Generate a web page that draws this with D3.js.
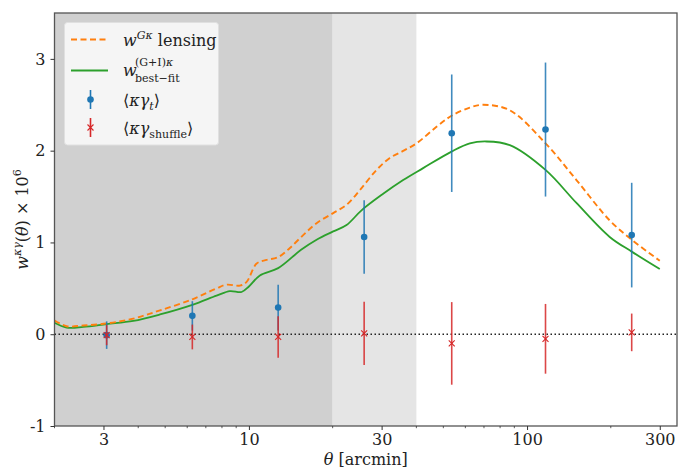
<!DOCTYPE html>
<html><head><meta charset="utf-8">
<script src="https://cdn.jsdelivr.net/npm/d3@7"></script>
<style>
html,body{margin:0;padding:0;background:#fff;}
svg text{font-family:"DejaVu Serif",serif;fill:#222;}
</style></head>
<body><svg id="c" width="678" height="468"></svg>
<script>
// ---- data ----
const lensTheta = [2.0, 2.21, 2.54, 3.08, 3.84, 4.79, 6.26, 7.65, 8.32, 9.28, 9.81, 10.66, 11.58, 12.74, 14.04, 15.67, 17.51, 20.09, 22.44, 25.06, 28.76, 32.11, 36.0, 40.06, 47.27, 53.51, 62.25, 69.5, 86.7, 116.5, 150.5, 198.2, 237.8, 300];
const lensValues = [0.15, 0.087, 0.095, 0.117, 0.17, 0.26, 0.38, 0.50, 0.54, 0.53, 0.57, 0.77, 0.81, 0.84, 0.94, 1.08, 1.21, 1.32, 1.41, 1.57, 1.79, 1.92, 2.00, 2.08, 2.26, 2.38, 2.47, 2.50, 2.44, 2.08, 1.68, 1.24, 1.03, 0.80];
const fitTheta = [2.0, 2.21, 2.54, 3.08, 3.84, 4.79, 6.26, 7.65, 8.54, 9.41, 10.0, 10.95, 12.74, 15.4, 17.51, 20.09, 22.44, 25.4, 30.38, 35.85, 42.3, 53.51, 62.25, 71.5, 86.7, 116.5, 150.5, 198.2, 237.8, 300];
const fitValues = [0.125, 0.073, 0.08, 0.11, 0.145, 0.215, 0.32, 0.42, 0.47, 0.46, 0.52, 0.64, 0.72, 0.92, 1.03, 1.12, 1.19, 1.35, 1.53, 1.68, 1.81, 1.99, 2.08, 2.10, 2.06, 1.79, 1.43, 1.06, 0.90, 0.71];
const binTheta = [3.08, 6.26, 12.74, 25.96, 53.6, 116.5, 237.8];
const kgValues = [-0.01, 0.20, 0.29, 1.06, 2.19, 2.23, 1.08];
const kgErrors = [0.15, 0.16, 0.25, 0.40, 0.64, 0.73, 0.57];
const shufValues = [-0.01, -0.03, -0.03, 0.01, -0.10, -0.05, 0.02];
const shufErrors = [0.11, 0.135, 0.225, 0.345, 0.45, 0.38, 0.205];
const xTicks = [3, 10, 30, 100, 300];
const yTicks = [-1, 0, 1, 2, 3];
const regions = [[2, 20], [20, 40]];

// ---- layout ----
const FONT = "DejaVu Serif, serif";
const L = 54.5, R = 677, T = 13, B = 426;
const svg = d3.select("#c");
const x = d3.scaleLog().domain([2, 346]).range([L, R]);
const y = d3.scaleLinear().domain([-1, 3.5]).range([B, T]);
const C = {blue:"#1f77b4", orange:"#ff7f0e", green:"#2ca02c", red:"#d62728"};

// shaded regions
const shade = ["#d0d0d0", "#e5e5e5"];
svg.selectAll("rect.reg").data(regions).join("rect")
  .attr("x", d => x(d[0])).attr("y", T)
  .attr("width", d => x(d[1]) - x(d[0])).attr("height", B - T)
  .attr("fill", (d, i) => shade[i]);

// zero line
svg.append("line").attr("x1", L).attr("x2", R).attr("y1", y(0)).attr("y2", y(0))
  .attr("stroke", "#222").attr("stroke-width", 1.5).attr("stroke-dasharray", "1.5,2.5");

// curves
const line = d3.line().x(d => x(d[0])).y(d => y(d[1])).curve(d3.curveCatmullRom.alpha(0.5));
svg.append("path").datum(fitTheta.map((t, i) => [t, fitValues[i]]))
  .attr("d", line).attr("fill", "none").attr("stroke", C.green).attr("stroke-width", 1.8);
svg.append("path").datum(lensTheta.map((t, i) => [t, lensValues[i]]))
  .attr("d", line).attr("fill", "none").attr("stroke", C.orange).attr("stroke-width", 1.9)
  .attr("stroke-dasharray", "6,3.5");

// kappa gamma_t points
const g1 = svg.append("g");
binTheta.forEach((t, i) => {
  g1.append("line").attr("x1", x(t)).attr("x2", x(t))
    .attr("y1", y(kgValues[i] - kgErrors[i])).attr("y2", y(kgValues[i] + kgErrors[i]))
    .attr("stroke", C.blue).attr("stroke-width", 1.6).attr("opacity", 0.85);
  g1.append("circle").attr("cx", x(t)).attr("cy", y(kgValues[i])).attr("r", 3.3).attr("fill", C.blue);
});
// shuffle points
const g2 = svg.append("g");
binTheta.forEach((t, i) => {
  const cx = x(t), cy = y(shufValues[i]);
  g2.append("line").attr("x1", cx).attr("x2", cx)
    .attr("y1", y(shufValues[i] - shufErrors[i])).attr("y2", y(shufValues[i] + shufErrors[i]))
    .attr("stroke", C.red).attr("stroke-width", 1.6).attr("opacity", 0.85);
  g2.append("path").attr("d", `M${cx-3},${cy-3}L${cx+3},${cy+3}M${cx-3},${cy+3}L${cx+3},${cy-3}`)
    .attr("stroke", C.red).attr("stroke-width", 1.1).attr("fill", "none");
});

// frame
svg.append("rect").attr("x", L).attr("y", T).attr("width", R - L).attr("height", B - T)
  .attr("fill", "none").attr("stroke", "#555").attr("stroke-width", 1.3);

// x axis
const xAxis = d3.axisBottom(x).tickValues(xTicks).tickFormat(d3.format("d")).tickSize(4).tickPadding(4);
const gx = svg.append("g").attr("transform", `translate(0,${B})`).call(xAxis);
const minor = [];
[2,3,4,5,6,7,8,9,20,30,40,50,60,70,80,90,200,300].forEach(v => { if (!xTicks.includes(v)) minor.push(v); });
gx.selectAll("line.mn").data(minor).join("line").attr("class", "mn")
  .attr("x1", d => x(d)).attr("x2", d => x(d)).attr("y1", 0).attr("y2", 2.2)
  .attr("stroke", "#333").attr("stroke-width", 0.8);
// y axis
const yAxis = d3.axisLeft(y).tickValues(yTicks).tickFormat(d3.format("d")).tickSize(4).tickPadding(5);
const gy = svg.append("g").attr("transform", `translate(${L},0)`).call(yAxis);
[gx, gy].forEach(g => {
  g.attr("font-family", FONT).attr("font-size", 16);
  g.select(".domain").remove();
  g.selectAll(".tick line").attr("stroke", "#333").attr("stroke-width", 1);
  g.selectAll(".tick text").attr("font-size", 16).attr("fill", "#222").style("font-family", FONT);
});
gy.selectAll(".tick text").text(d => d < 0 ? "-" + Math.abs(d) : d);

// axis labels
const xl = svg.append("text").attr("x", (L + R) / 2).attr("y", 465).attr("text-anchor", "middle").attr("font-size", 16);
xl.append("tspan").attr("font-style", "italic").text("θ");
xl.append("tspan").text(" [arcmin]");

const yl = svg.append("text").attr("transform", `translate(28,${(T + B) / 2}) rotate(-90)`)
  .attr("text-anchor", "middle").attr("font-size", 16);
yl.append("tspan").attr("font-style", "italic").text("w");
yl.append("tspan").attr("font-style", "italic").attr("font-size", 11).attr("dy", -7).text("κγ");
yl.append("tspan").attr("dy", 7).text("(");
yl.append("tspan").attr("font-style", "italic").text("θ");
yl.append("tspan").text(") × 10");
yl.append("tspan").attr("font-size", 11).attr("dy", -7).text("6");

// legend
const lg = svg.append("g");
lg.append("rect").attr("x", 64.5).attr("y", 22.5).attr("width", 154).attr("height", 122.5)
  .attr("rx", 3).attr("fill", "#f5f5f5").attr("stroke", "#e0e0e0").attr("stroke-width", 1);
lg.append("line").attr("x1", 71).attr("x2", 108).attr("y1", 39.5).attr("y2", 39.5)
  .attr("stroke", C.orange).attr("stroke-width", 1.9).attr("stroke-dasharray", "6,3.5");
lg.append("line").attr("x1", 71).attr("x2", 108).attr("y1", 70.5).attr("y2", 70.5)
  .attr("stroke", C.green).attr("stroke-width", 1.8);
lg.append("line").attr("x1", 90.5).attr("x2", 90.5).attr("y1", 90).attr("y2", 109)
  .attr("stroke", C.blue).attr("stroke-width", 1.6);
lg.append("circle").attr("cx", 90.5).attr("cy", 99.5).attr("r", 3.3).attr("fill", C.blue);
lg.append("line").attr("x1", 90.5).attr("x2", 90.5).attr("y1", 118).attr("y2", 137)
  .attr("stroke", C.red).attr("stroke-width", 1.6);
lg.append("path").attr("d", "M87.5,124.5L93.5,130.5M87.5,130.5L93.5,124.5")
  .attr("stroke", C.red).attr("stroke-width", 1.1);

const t1 = lg.append("text").attr("x", 123).attr("y", 45.5).attr("font-size", 16);
t1.append("tspan").attr("font-style", "italic").text("w");
t1.append("tspan").attr("font-style", "italic").attr("font-size", 11).attr("dy", -7).text("Gκ");
t1.append("tspan").attr("dy", 7).text(" lensing");

lg.append("text").attr("x", 123).attr("y", 76).attr("font-size", 16).attr("font-style", "italic").text("w");
lg.append("text").attr("x", 135).attr("y", 66).attr("font-size", 11).text("(G+I)")
  .append("tspan").attr("font-style", "italic").text("κ");
lg.append("text").attr("x", 135).attr("y", 82).attr("font-size", 11).text("best−fit");

const t3 = lg.append("text").attr("x", 123).attr("y", 106).attr("font-size", 16);
t3.append("tspan").text("⟨");
t3.append("tspan").attr("font-style", "italic").text("κγ");
t3.append("tspan").attr("font-style", "italic").attr("font-size", 11).attr("dy", 4).text("t");
t3.append("tspan").attr("dy", -4).text("⟩");

const t4 = lg.append("text").attr("x", 123).attr("y", 134).attr("font-size", 16);
t4.append("tspan").text("⟨");
t4.append("tspan").attr("font-style", "italic").text("κγ");
t4.append("tspan").attr("font-size", 11).attr("dy", 4).text("shuffle");
t4.append("tspan").attr("dy", -4).text("⟩");
</script></body></html>
